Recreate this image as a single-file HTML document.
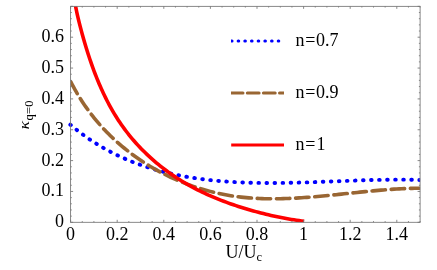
<!DOCTYPE html>
<html><head><meta charset="utf-8"><title>plot</title>
<style>
html,body{margin:0;padding:0;background:#fff;}
body{width:437px;height:270px;overflow:hidden;}
svg{display:block;will-change:transform;}
text{font-family:"Liberation Serif",serif;font-size:18px;fill:#000;}
</style></head><body>
<svg width="437" height="270" viewBox="0 0 437 270">
<rect x="0" y="0" width="437" height="270" fill="#fff"/>
<defs><clipPath id="c"><rect x="70.60" y="6.35" width="349.50" height="215.95"/></clipPath></defs>
<defs><clipPath id="cb"><rect x="67.60" y="6.35" width="352.50" height="215.95"/></clipPath></defs>
<g clip-path="url(#cb)" fill="none">
<path d="M69.72,124.13 L71.70,125.81 L73.69,127.46 L75.69,129.08 L77.70,130.67 L79.73,132.23 L81.76,133.76 L83.80,135.26 L85.85,136.73 L87.91,138.17 L89.98,139.58 L92.06,140.97 L94.15,142.32 L96.25,143.65 L98.35,144.94 L100.47,146.22 L102.59,147.46 L104.73,148.67 L106.87,149.86 L109.02,151.03 L111.18,152.16 L113.34,153.27 L115.52,154.36 L117.70,155.42 L119.89,156.45 L122.09,157.46 L124.29,158.45 L126.51,159.41 L128.73,160.34 L130.96,161.25 L133.19,162.14 L135.43,163.01 L137.68,163.85 L139.94,164.67 L142.20,165.47 L144.47,166.25 L146.75,167.00 L149.03,167.73 L151.32,168.44 L153.61,169.13 L155.91,169.80 L158.22,170.45 L160.54,171.08 L162.85,171.69 L165.18,172.28 L167.51,172.85 L169.85,173.40 L172.19,173.93 L174.53,174.45 L176.88,174.94 L179.24,175.42 L181.60,175.88 L183.97,176.32 L186.34,176.75 L188.72,177.16 L191.10,177.55 L193.48,177.92 L195.87,178.28 L198.26,178.63 L200.66,178.95 L203.06,179.27 L205.47,179.57 L207.88,179.85 L210.29,180.12 L212.70,180.37 L215.12,180.62 L217.55,180.84 L219.97,181.06 L222.40,181.26 L224.83,181.45 L227.27,181.63 L229.70,181.79 L232.15,181.94 L234.59,182.08 L237.03,182.21 L239.48,182.33 L241.93,182.44 L244.38,182.54 L246.84,182.62 L249.29,182.70 L251.75,182.77 L254.21,182.83 L256.67,182.88 L259.13,182.92 L261.60,182.95 L264.06,182.97 L266.53,182.99 L268.99,183.00 L271.46,183.00 L273.93,182.99 L276.40,182.98 L278.87,182.96 L281.34,182.93 L283.81,182.90 L286.28,182.86 L288.76,182.82 L291.23,182.77 L293.70,182.71 L296.17,182.65 L298.64,182.59 L301.11,182.52 L303.58,182.45 L306.05,182.38 L308.52,182.30 L310.99,182.22 L313.46,182.14 L315.92,182.05 L318.39,181.96 L320.85,181.87 L323.31,181.78 L325.77,181.69 L328.23,181.59 L330.69,181.50 L333.15,181.40 L335.60,181.31 L338.05,181.21 L340.50,181.12 L342.95,181.02 L345.39,180.93 L347.84,180.83 L350.28,180.74 L352.72,180.65 L355.15,180.57 L357.58,180.48 L360.01,180.40 L362.44,180.32 L364.86,180.24 L367.28,180.17 L369.70,180.10 L372.11,180.03 L374.52,179.97 L376.92,179.91 L379.32,179.86 L381.72,179.81 L384.11,179.77 L386.50,179.73 L388.89,179.70 L391.27,179.68 L393.64,179.66 L396.01,179.65 L398.38,179.64 L400.74,179.65 L403.10,179.66 L405.45,179.67 L407.80,179.70 L410.14,179.73 L412.48,179.78 L414.81,179.83 L417.13,179.89 L419.45,179.96" stroke="#0000ff" stroke-width="3.9" stroke-linecap="round" stroke-dasharray="0.6 7.447" stroke-dashoffset="-0.8"/>
</g>
<g clip-path="url(#c)" fill="none">
<path d="M70.82,81.83 L72.07,84.27 L73.35,86.68 L74.66,89.08 L76.00,91.45 L77.36,93.79 L78.76,96.12 L80.19,98.42 L81.64,100.69 L83.12,102.95 L84.63,105.17 L86.17,107.38 L87.73,109.56 L89.32,111.72 L90.93,113.85 L92.57,115.96 L94.24,118.04 L95.93,120.10 L97.65,122.14 L99.39,124.15 L101.15,126.13 L102.94,128.10 L104.75,130.03 L106.59,131.94 L108.45,133.83 L110.33,135.69 L112.23,137.53 L114.15,139.34 L116.10,141.12 L118.07,142.88 L120.05,144.62 L122.06,146.33 L124.09,148.01 L126.14,149.67 L128.20,151.30 L130.29,152.91 L132.39,154.48 L134.52,156.04 L136.66,157.56 L138.82,159.06 L140.99,160.54 L143.19,161.99 L145.40,163.41 L147.62,164.80 L149.87,166.17 L152.12,167.51 L154.40,168.82 L156.69,170.11 L158.99,171.37 L161.31,172.60 L163.64,173.80 L165.98,174.98 L168.34,176.13 L170.71,177.25 L173.10,178.35 L175.50,179.41 L177.91,180.45 L180.33,181.46 L182.76,182.44 L185.20,183.40 L187.65,184.32 L190.12,185.22 L192.59,186.09 L195.08,186.93 L197.57,187.74 L200.07,188.53 L202.58,189.28 L205.10,190.01 L207.63,190.70 L210.16,191.37 L212.71,192.01 L215.26,192.62 L217.81,193.20 L220.37,193.75 L222.94,194.27 L225.52,194.76 L228.10,195.23 L230.68,195.66 L233.27,196.06 L235.86,196.43 L238.46,196.78 L241.06,197.09 L243.67,197.37 L246.27,197.63 L248.89,197.86 L251.50,198.06 L254.12,198.23 L256.74,198.38 L259.36,198.51 L261.99,198.61 L264.62,198.69 L267.25,198.74 L269.89,198.77 L272.52,198.79 L275.16,198.78 L277.80,198.75 L280.44,198.71 L283.09,198.64 L285.73,198.56 L288.38,198.46 L291.03,198.35 L293.68,198.22 L296.33,198.08 L298.98,197.92 L301.63,197.75 L304.29,197.56 L306.94,197.37 L309.60,197.16 L312.25,196.95 L314.90,196.72 L317.56,196.49 L320.21,196.25 L322.87,196.00 L325.52,195.74 L328.18,195.48 L330.83,195.21 L333.48,194.94 L336.13,194.67 L338.78,194.39 L341.43,194.11 L344.08,193.83 L346.73,193.55 L349.37,193.27 L352.02,192.98 L354.66,192.70 L357.30,192.43 L359.94,192.15 L362.57,191.88 L365.21,191.61 L367.84,191.35 L370.47,191.09 L373.10,190.84 L375.72,190.60 L378.34,190.37 L380.96,190.14 L383.57,189.92 L386.18,189.72 L388.79,189.52 L391.40,189.34 L394.00,189.16 L396.59,189.00 L399.19,188.86 L401.77,188.73 L404.36,188.61 L406.94,188.51 L409.52,188.43 L412.09,188.36 L414.65,188.31 L417.22,188.28 L419.77,188.27" stroke="#996633" stroke-width="3.6" stroke-dasharray="13.4 5.8" stroke-linecap="round" stroke-dashoffset="0"/>
<path d="M70.94,-39.97 L70.93,-37.34 L70.96,-34.72 L71.02,-32.10 L71.12,-29.49 L71.25,-26.89 L71.41,-24.29 L71.60,-21.70 L71.83,-19.12 L72.08,-16.54 L72.36,-13.97 L72.68,-11.40 L73.02,-8.84 L73.39,-6.28 L73.78,-3.73 L74.20,-1.18 L74.64,1.36 L75.11,3.90 L75.60,6.44 L76.11,8.97 L76.64,11.50 L77.19,14.03 L77.77,16.55 L78.36,19.07 L78.97,21.59 L79.60,24.11 L80.24,26.63 L80.90,29.14 L81.57,31.65 L82.26,34.16 L82.96,36.68 L83.67,39.19 L84.39,41.70 L85.13,44.20 L85.88,46.71 L86.65,49.21 L87.43,51.71 L88.22,54.21 L89.04,56.70 L89.86,59.19 L90.70,61.67 L91.56,64.15 L92.44,66.62 L93.34,69.08 L94.25,71.54 L95.18,73.99 L96.13,76.43 L97.10,78.85 L98.10,81.28 L99.11,83.68 L100.14,86.08 L101.20,88.47 L102.27,90.85 L103.37,93.21 L104.49,95.56 L105.64,97.90 L106.81,100.22 L108.00,102.53 L109.22,104.82 L110.47,107.10 L111.74,109.36 L113.03,111.61 L114.36,113.84 L115.71,116.05 L117.09,118.24 L118.49,120.41 L119.93,122.56 L121.39,124.70 L122.89,126.81 L124.41,128.90 L125.97,130.97 L127.55,133.02 L129.15,135.05 L130.79,137.06 L132.46,139.04 L134.15,141.00 L135.86,142.95 L137.60,144.86 L139.37,146.76 L141.17,148.63 L142.98,150.48 L144.83,152.31 L146.69,154.11 L148.58,155.89 L150.49,157.65 L152.43,159.38 L154.38,161.08 L156.36,162.77 L158.36,164.42 L160.38,166.06 L162.42,167.67 L164.48,169.25 L166.56,170.80 L168.66,172.34 L170.78,173.84 L172.91,175.32 L175.07,176.77 L177.24,178.20 L179.43,179.60 L181.63,180.97 L183.85,182.31 L186.09,183.63 L188.34,184.92 L190.61,186.19 L192.89,187.42 L195.18,188.63 L197.49,189.82 L199.81,190.98 L202.15,192.11 L204.49,193.22 L206.85,194.31 L209.22,195.37 L211.60,196.41 L214.00,197.43 L216.40,198.42 L218.81,199.39 L221.23,200.34 L223.66,201.27 L226.10,202.18 L228.54,203.07 L231.00,203.94 L233.46,204.79 L235.93,205.62 L238.40,206.43 L240.88,207.22 L243.36,208.00 L245.85,208.76 L248.35,209.50 L250.85,210.22 L253.35,210.93 L255.86,211.62 L258.37,212.29 L260.89,212.95 L263.41,213.58 L265.93,214.20 L268.46,214.80 L270.99,215.39 L273.52,215.96 L276.06,216.51 L278.60,217.04 L281.14,217.55 L283.68,218.04 L286.23,218.52 L288.78,218.98 L291.34,219.42 L293.89,219.84 L296.45,220.24 L299.01,220.63 L301.57,220.99 L304.13,221.34" stroke="#ff0000" stroke-width="3.6"/>
</g>
<g stroke="#747474" stroke-width="0.85" fill="none">
<rect x="70.60" y="6.35" width="349.50" height="215.95"/>
<line x1="70.60" y1="222.30" x2="70.60" y2="219.80"/>
<line x1="70.60" y1="6.35" x2="70.60" y2="8.85"/>
<line x1="82.25" y1="222.30" x2="82.25" y2="221.10"/>
<line x1="82.25" y1="6.35" x2="82.25" y2="7.55"/>
<line x1="93.90" y1="222.30" x2="93.90" y2="221.10"/>
<line x1="93.90" y1="6.35" x2="93.90" y2="7.55"/>
<line x1="105.55" y1="222.30" x2="105.55" y2="221.10"/>
<line x1="105.55" y1="6.35" x2="105.55" y2="7.55"/>
<line x1="117.20" y1="222.30" x2="117.20" y2="219.80"/>
<line x1="117.20" y1="6.35" x2="117.20" y2="8.85"/>
<line x1="128.85" y1="222.30" x2="128.85" y2="221.10"/>
<line x1="128.85" y1="6.35" x2="128.85" y2="7.55"/>
<line x1="140.50" y1="222.30" x2="140.50" y2="221.10"/>
<line x1="140.50" y1="6.35" x2="140.50" y2="7.55"/>
<line x1="152.15" y1="222.30" x2="152.15" y2="221.10"/>
<line x1="152.15" y1="6.35" x2="152.15" y2="7.55"/>
<line x1="163.80" y1="222.30" x2="163.80" y2="219.80"/>
<line x1="163.80" y1="6.35" x2="163.80" y2="8.85"/>
<line x1="175.45" y1="222.30" x2="175.45" y2="221.10"/>
<line x1="175.45" y1="6.35" x2="175.45" y2="7.55"/>
<line x1="187.10" y1="222.30" x2="187.10" y2="221.10"/>
<line x1="187.10" y1="6.35" x2="187.10" y2="7.55"/>
<line x1="198.75" y1="222.30" x2="198.75" y2="221.10"/>
<line x1="198.75" y1="6.35" x2="198.75" y2="7.55"/>
<line x1="210.40" y1="222.30" x2="210.40" y2="219.80"/>
<line x1="210.40" y1="6.35" x2="210.40" y2="8.85"/>
<line x1="222.05" y1="222.30" x2="222.05" y2="221.10"/>
<line x1="222.05" y1="6.35" x2="222.05" y2="7.55"/>
<line x1="233.70" y1="222.30" x2="233.70" y2="221.10"/>
<line x1="233.70" y1="6.35" x2="233.70" y2="7.55"/>
<line x1="245.35" y1="222.30" x2="245.35" y2="221.10"/>
<line x1="245.35" y1="6.35" x2="245.35" y2="7.55"/>
<line x1="257.00" y1="222.30" x2="257.00" y2="219.80"/>
<line x1="257.00" y1="6.35" x2="257.00" y2="8.85"/>
<line x1="268.65" y1="222.30" x2="268.65" y2="221.10"/>
<line x1="268.65" y1="6.35" x2="268.65" y2="7.55"/>
<line x1="280.30" y1="222.30" x2="280.30" y2="221.10"/>
<line x1="280.30" y1="6.35" x2="280.30" y2="7.55"/>
<line x1="291.95" y1="222.30" x2="291.95" y2="221.10"/>
<line x1="291.95" y1="6.35" x2="291.95" y2="7.55"/>
<line x1="303.60" y1="222.30" x2="303.60" y2="219.80"/>
<line x1="303.60" y1="6.35" x2="303.60" y2="8.85"/>
<line x1="315.25" y1="222.30" x2="315.25" y2="221.10"/>
<line x1="315.25" y1="6.35" x2="315.25" y2="7.55"/>
<line x1="326.90" y1="222.30" x2="326.90" y2="221.10"/>
<line x1="326.90" y1="6.35" x2="326.90" y2="7.55"/>
<line x1="338.55" y1="222.30" x2="338.55" y2="221.10"/>
<line x1="338.55" y1="6.35" x2="338.55" y2="7.55"/>
<line x1="350.20" y1="222.30" x2="350.20" y2="219.80"/>
<line x1="350.20" y1="6.35" x2="350.20" y2="8.85"/>
<line x1="361.85" y1="222.30" x2="361.85" y2="221.10"/>
<line x1="361.85" y1="6.35" x2="361.85" y2="7.55"/>
<line x1="373.50" y1="222.30" x2="373.50" y2="221.10"/>
<line x1="373.50" y1="6.35" x2="373.50" y2="7.55"/>
<line x1="385.15" y1="222.30" x2="385.15" y2="221.10"/>
<line x1="385.15" y1="6.35" x2="385.15" y2="7.55"/>
<line x1="396.80" y1="222.30" x2="396.80" y2="219.80"/>
<line x1="396.80" y1="6.35" x2="396.80" y2="8.85"/>
<line x1="408.45" y1="222.30" x2="408.45" y2="221.10"/>
<line x1="408.45" y1="6.35" x2="408.45" y2="7.55"/>
<line x1="420.10" y1="222.30" x2="420.10" y2="221.10"/>
<line x1="420.10" y1="6.35" x2="420.10" y2="7.55"/>
<line x1="70.60" y1="222.30" x2="73.10" y2="222.30"/>
<line x1="420.10" y1="222.30" x2="417.60" y2="222.30"/>
<line x1="70.60" y1="216.13" x2="71.80" y2="216.13"/>
<line x1="420.10" y1="216.13" x2="418.90" y2="216.13"/>
<line x1="70.60" y1="209.96" x2="71.80" y2="209.96"/>
<line x1="420.10" y1="209.96" x2="418.90" y2="209.96"/>
<line x1="70.60" y1="203.79" x2="71.80" y2="203.79"/>
<line x1="420.10" y1="203.79" x2="418.90" y2="203.79"/>
<line x1="70.60" y1="197.62" x2="71.80" y2="197.62"/>
<line x1="420.10" y1="197.62" x2="418.90" y2="197.62"/>
<line x1="70.60" y1="191.45" x2="73.10" y2="191.45"/>
<line x1="420.10" y1="191.45" x2="417.60" y2="191.45"/>
<line x1="70.60" y1="185.28" x2="71.80" y2="185.28"/>
<line x1="420.10" y1="185.28" x2="418.90" y2="185.28"/>
<line x1="70.60" y1="179.11" x2="71.80" y2="179.11"/>
<line x1="420.10" y1="179.11" x2="418.90" y2="179.11"/>
<line x1="70.60" y1="172.94" x2="71.80" y2="172.94"/>
<line x1="420.10" y1="172.94" x2="418.90" y2="172.94"/>
<line x1="70.60" y1="166.77" x2="71.80" y2="166.77"/>
<line x1="420.10" y1="166.77" x2="418.90" y2="166.77"/>
<line x1="70.60" y1="160.60" x2="73.10" y2="160.60"/>
<line x1="420.10" y1="160.60" x2="417.60" y2="160.60"/>
<line x1="70.60" y1="154.43" x2="71.80" y2="154.43"/>
<line x1="420.10" y1="154.43" x2="418.90" y2="154.43"/>
<line x1="70.60" y1="148.26" x2="71.80" y2="148.26"/>
<line x1="420.10" y1="148.26" x2="418.90" y2="148.26"/>
<line x1="70.60" y1="142.09" x2="71.80" y2="142.09"/>
<line x1="420.10" y1="142.09" x2="418.90" y2="142.09"/>
<line x1="70.60" y1="135.92" x2="71.80" y2="135.92"/>
<line x1="420.10" y1="135.92" x2="418.90" y2="135.92"/>
<line x1="70.60" y1="129.75" x2="73.10" y2="129.75"/>
<line x1="420.10" y1="129.75" x2="417.60" y2="129.75"/>
<line x1="70.60" y1="123.58" x2="71.80" y2="123.58"/>
<line x1="420.10" y1="123.58" x2="418.90" y2="123.58"/>
<line x1="70.60" y1="117.41" x2="71.80" y2="117.41"/>
<line x1="420.10" y1="117.41" x2="418.90" y2="117.41"/>
<line x1="70.60" y1="111.24" x2="71.80" y2="111.24"/>
<line x1="420.10" y1="111.24" x2="418.90" y2="111.24"/>
<line x1="70.60" y1="105.07" x2="71.80" y2="105.07"/>
<line x1="420.10" y1="105.07" x2="418.90" y2="105.07"/>
<line x1="70.60" y1="98.90" x2="73.10" y2="98.90"/>
<line x1="420.10" y1="98.90" x2="417.60" y2="98.90"/>
<line x1="70.60" y1="92.73" x2="71.80" y2="92.73"/>
<line x1="420.10" y1="92.73" x2="418.90" y2="92.73"/>
<line x1="70.60" y1="86.56" x2="71.80" y2="86.56"/>
<line x1="420.10" y1="86.56" x2="418.90" y2="86.56"/>
<line x1="70.60" y1="80.39" x2="71.80" y2="80.39"/>
<line x1="420.10" y1="80.39" x2="418.90" y2="80.39"/>
<line x1="70.60" y1="74.22" x2="71.80" y2="74.22"/>
<line x1="420.10" y1="74.22" x2="418.90" y2="74.22"/>
<line x1="70.60" y1="68.05" x2="73.10" y2="68.05"/>
<line x1="420.10" y1="68.05" x2="417.60" y2="68.05"/>
<line x1="70.60" y1="61.88" x2="71.80" y2="61.88"/>
<line x1="420.10" y1="61.88" x2="418.90" y2="61.88"/>
<line x1="70.60" y1="55.71" x2="71.80" y2="55.71"/>
<line x1="420.10" y1="55.71" x2="418.90" y2="55.71"/>
<line x1="70.60" y1="49.54" x2="71.80" y2="49.54"/>
<line x1="420.10" y1="49.54" x2="418.90" y2="49.54"/>
<line x1="70.60" y1="43.37" x2="71.80" y2="43.37"/>
<line x1="420.10" y1="43.37" x2="418.90" y2="43.37"/>
<line x1="70.60" y1="37.20" x2="73.10" y2="37.20"/>
<line x1="420.10" y1="37.20" x2="417.60" y2="37.20"/>
<line x1="70.60" y1="31.03" x2="71.80" y2="31.03"/>
<line x1="420.10" y1="31.03" x2="418.90" y2="31.03"/>
<line x1="70.60" y1="24.86" x2="71.80" y2="24.86"/>
<line x1="420.10" y1="24.86" x2="418.90" y2="24.86"/>
<line x1="70.60" y1="18.69" x2="71.80" y2="18.69"/>
<line x1="420.10" y1="18.69" x2="418.90" y2="18.69"/>
<line x1="70.60" y1="12.52" x2="71.80" y2="12.52"/>
<line x1="420.10" y1="12.52" x2="418.90" y2="12.52"/>
<line x1="70.60" y1="6.35" x2="73.10" y2="6.35"/>
<line x1="420.10" y1="6.35" x2="417.60" y2="6.35"/>
</g>
<g>
<text x="70.60" y="239.8" text-anchor="middle">0</text>
<text x="117.20" y="239.8" text-anchor="middle">0.2</text>
<text x="163.80" y="239.8" text-anchor="middle">0.4</text>
<text x="210.40" y="239.8" text-anchor="middle">0.6</text>
<text x="257.00" y="239.8" text-anchor="middle">0.8</text>
<text x="303.60" y="239.8" text-anchor="middle">1</text>
<text x="350.20" y="239.8" text-anchor="middle">1.2</text>
<text x="396.80" y="239.8" text-anchor="middle">1.4</text>
<text x="64.0" y="227.20" text-anchor="end">0</text>
<text x="64.0" y="196.35" text-anchor="end">0.1</text>
<text x="64.0" y="165.50" text-anchor="end">0.2</text>
<text x="64.0" y="134.65" text-anchor="end">0.3</text>
<text x="64.0" y="103.80" text-anchor="end">0.4</text>
<text x="64.0" y="72.95" text-anchor="end">0.5</text>
<text x="64.0" y="42.10" text-anchor="end">0.6</text>
</g>
<!-- legend -->
<defs><clipPath id="lc"><rect x="231.1" y="30" width="52.9" height="130"/></clipPath></defs>
<g fill="none" clip-path="url(#lc)">
<path d="M231.5,41.0 H282" stroke="#0000ff" stroke-width="3.1" stroke-linecap="round" stroke-dasharray="0.5 6.18"/>
<path d="M231.2,93.1 H290" stroke="#996633" stroke-width="3.0" stroke-linecap="round" stroke-dasharray="11.8 4.3"/>
<path d="M231.2,145.1 H290" stroke="#ff0000" stroke-width="3"/>
</g>
<text x="295.5" y="45.6">n<tspan dx="0.7">=</tspan><tspan dx="0.6">0.7</tspan></text>
<text x="295.5" y="97.6">n<tspan dx="0.7">=</tspan><tspan dx="0.6">0.9</tspan></text>
<text x="295.5" y="149.6">n<tspan dx="0.7">=</tspan><tspan dx="1.2">1</tspan></text>
<text x="225.5" y="258.1">U/U<tspan style="font-size:12.5px" dy="3">c</tspan></text>
<text transform="translate(29.3,129.5) rotate(-90) scale(1.15,1)" style="font-size:15.5px;font-style:italic">κ</text>
<text transform="translate(33.0,120.6) rotate(-90)" style="font-size:12.5px;letter-spacing:0.3px">q=0</text>
</svg>
</body></html>
